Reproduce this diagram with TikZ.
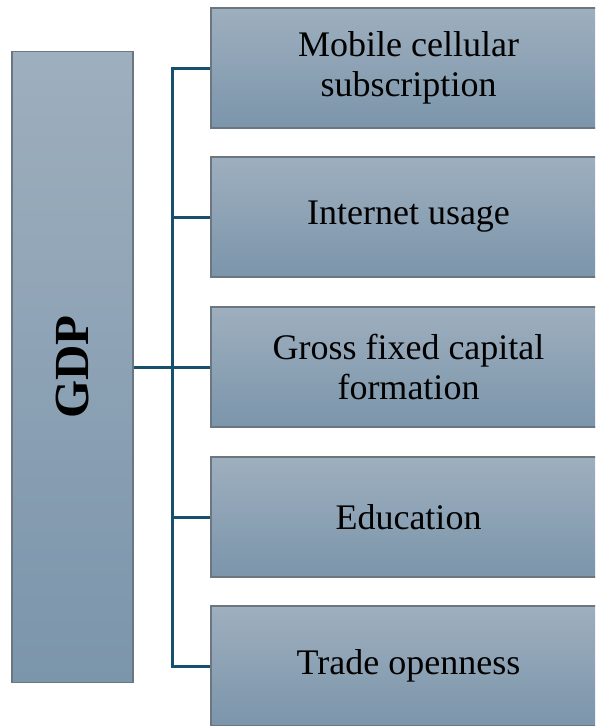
\documentclass[tikz,border=0pt]{standalone}
\usepackage{fontspec}
\setmainfont{Liberation Serif}
\definecolor{boxtop}{HTML}{9EAFBE}
\definecolor{boxbot}{HTML}{7B95AB}
\definecolor{boxline}{HTML}{6C7680}
\definecolor{linkblue}{HTML}{17506C}
\tikzset{
  factor/.style={rectangle,draw=boxline,line width=1.5pt,top color=boxtop,bottom color=boxbot,
    minimum width=395pt,minimum height=120pt,align=center,inner sep=0pt,
    font=\fontsize{36}{40}\selectfont},
  link/.style={draw=linkblue,line width=3pt}
}
\begin{document}
\begin{tikzpicture}[x=1pt,y=-1pt]
\useasboundingbox (0,0) rectangle (595,726);
\clip (0,0) rectangle (595,726);

\node[factor,minimum width=121pt,minimum height=631pt] (gdp) at (72.5,367) {};
\node[rotate=90,font=\fontsize{49}{52}\selectfont\bfseries] at (gdp.center) {GDP};

\node[factor] (mobile) at (408.5,68) {Mobile cellular\\subscription};
\node[factor] (internet) at (408.5,217) {Internet usage};
\node[factor] (capital) at (408.5,367) {Gross fixed capital\\formation};
\node[factor] (educ) at (408.5,517) {Education};
\node[factor] (trade) at (408.5,666) {Trade openness};

\coordinate (hub) at (172,367);
\draw[link] (gdp.east) -- (hub);
\draw[link] (hub) |- (mobile.west);
\draw[link] (hub) |- (internet.west);
\draw[link] (hub) -- (capital.west);
\draw[link] (hub) |- (educ.west);
\draw[link] (hub) |- (trade.west);

\end{tikzpicture}
\end{document}
